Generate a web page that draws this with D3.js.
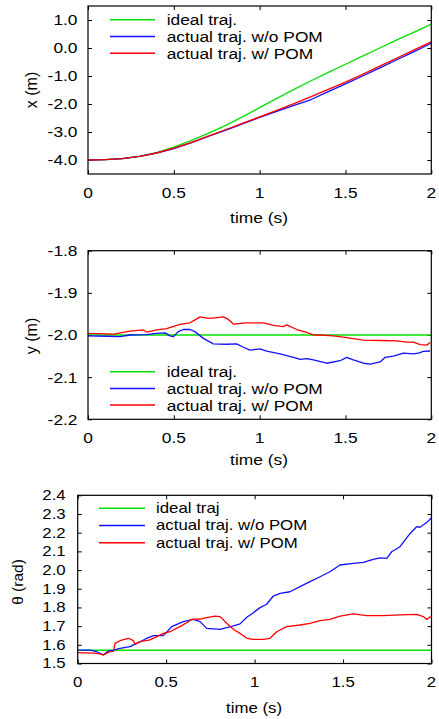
<!DOCTYPE html>
<html><head><meta charset="utf-8">
<script src="https://cdn.jsdelivr.net/npm/d3@7"></script>
<style>html,body{margin:0;padding:0;background:#fff;}svg{display:block;}</style>
</head><body>
<svg id="c" width="439" height="719"></svg>
<script>
// ---------- DATA ----------
const xTicks = [0, 0.5, 1, 1.5, 2];
const xTickLabels = ["0", "0.5", "1", "1.5", "2"];

// Panel 1: x (m)
const t1 = [0,0.1,0.2,0.3,0.4,0.5,0.6,0.7,0.8,0.9,1.0,1.1,1.2,1.3,1.4,1.5,1.6,1.7,1.8,1.9,2.0];
const xIdeal = [-4.0,-3.99,-3.95,-3.87,-3.74,-3.54,-3.31,-3.05,-2.77,-2.46,-2.13,-1.80,-1.48,-1.17,-0.87,-0.58,-0.29,0.0,0.29,0.57,0.85];
const xNoPOM = [-4.0,-3.99,-3.95,-3.87,-3.75,-3.59,-3.39,-3.16,-2.94,-2.71,-2.48,-2.26,-2.05,-1.84,-1.56,-1.28,-1.00,-0.71,-0.42,-0.13,0.17];
const xPOM   = [-4.0,-3.99,-3.95,-3.87,-3.75,-3.58,-3.38,-3.15,-2.92,-2.69,-2.46,-2.23,-1.99,-1.74,-1.48,-1.22,-0.94,-0.65,-0.36,-0.07,0.22];
const y1Ticks = [-4,-3,-2,-1,0,1];
const y1TickLabels = ["-4.0","-3.0","-2.0","-1.0","0.0","1.0"];

// Panel 2: y (m)
const t2Ideal = [0, 2];
const yIdeal = [-2.0, -2.0];
const t2NoPOM = [0,0.109,0.186,0.245,0.342,0.400,0.449,0.478,0.497,0.526,0.556,0.594,0.623,0.672,0.730,0.808,0.866,0.905,0.944,1.002,1.041,1.119,1.197,1.236,1.274,1.313,1.391,1.469,1.507,1.546,1.605,1.643,1.702,1.731,1.780,1.838,1.896,1.925,1.954,1.993];
const yNoPOM = [-2.002,-2.003,-2.004,-2.000,-1.999,-1.996,-1.995,-2.002,-2.004,-1.992,-1.987,-1.987,-1.992,-2.008,-2.021,-2.022,-2.021,-2.029,-2.036,-2.033,-2.038,-2.045,-2.053,-2.058,-2.056,-2.059,-2.067,-2.061,-2.053,-2.059,-2.067,-2.069,-2.064,-2.053,-2.050,-2.043,-2.045,-2.043,-2.039,-2.038];
const t2POM = [0,0.148,0.245,0.322,0.342,0.400,0.458,0.536,0.594,0.623,0.653,0.691,0.730,0.789,0.818,0.847,0.925,1.022,1.080,1.138,1.158,1.216,1.274,1.313,1.352,1.430,1.507,1.605,1.702,1.799,1.857,1.896,1.935,1.974,1.993];
const yPOM = [-1.996,-1.998,-1.991,-1.988,-1.993,-1.988,-1.985,-1.975,-1.971,-1.964,-1.957,-1.960,-1.960,-1.957,-1.963,-1.974,-1.971,-1.971,-1.977,-1.980,-1.976,-1.987,-1.994,-2.000,-2.000,-2.002,-2.006,-2.012,-2.013,-2.014,-2.017,-2.017,-2.023,-2.024,-2.018];
const y2Ticks = [-2.2,-2.1,-2.0,-1.9,-1.8];
const y2TickLabels = ["-2.2","-2.1","-2.0","-1.9","-1.8"];

// Panel 3: theta (rad)
const t3Ideal = [0, 2];
const thIdeal = [1.5708, 1.5708];
const t3NoPOM = [0,0.070,0.107,0.145,0.170,0.202,0.239,0.296,0.324,0.352,0.390,0.428,0.484,0.503,0.531,0.597,0.654,0.692,0.729,0.805,0.880,0.918,0.956,0.993,1.031,1.068,1.106,1.144,1.200,1.257,1.313,1.370,1.426,1.483,1.558,1.615,1.671,1.709,1.747,1.775,1.822,1.879,1.916,1.935,1.973,2.0];
const thNoPOM = [1.572,1.572,1.563,1.546,1.565,1.572,1.581,1.590,1.604,1.615,1.635,1.649,1.649,1.667,1.697,1.724,1.736,1.724,1.688,1.683,1.701,1.712,1.747,1.772,1.799,1.817,1.861,1.875,1.884,1.911,1.938,1.964,1.991,2.027,2.036,2.041,2.057,2.065,2.063,2.098,2.125,2.196,2.232,2.229,2.254,2.280];
const t3POM = [0,0.089,0.126,0.145,0.183,0.202,0.211,0.239,0.286,0.315,0.324,0.352,0.409,0.447,0.484,0.522,0.578,0.616,0.644,0.692,0.729,0.776,0.805,0.842,0.880,0.918,0.956,0.993,1.050,1.087,1.125,1.181,1.257,1.313,1.370,1.426,1.483,1.558,1.634,1.728,1.822,1.916,1.954,1.973,2.0];
const thPOM = [1.558,1.556,1.552,1.546,1.563,1.565,1.608,1.622,1.635,1.622,1.604,1.617,1.626,1.644,1.661,1.670,1.697,1.718,1.736,1.738,1.745,1.754,1.751,1.715,1.683,1.661,1.635,1.629,1.629,1.635,1.670,1.697,1.706,1.715,1.729,1.736,1.754,1.765,1.756,1.756,1.760,1.763,1.751,1.736,1.754];
const y3Ticks = [1.5,1.6,1.7,1.8,1.9,2.0,2.1,2.2,2.3,2.4];
const y3TickLabels = ["1.5","1.6","1.7","1.8","1.9","2.0","2.1","2.2","2.3","2.4"];

const legend12 = ["ideal traj.", "actual traj. w/o POM", "actual traj. w/ POM"];
const legend3 = ["ideal traj", "actual traj. w/o POM", "actual traj. w/ POM"];
const colors = ["#00e000", "#1010ff", "#ff0000"];

// ---------- DRAW ----------
const svg = d3.select("#c");
const FONT = "'Liberation Sans', Arial, Helvetica, sans-serif";

function stext(g, x, y, str, fs, sx, anchor) {
  return g.append("text")
    .attr("transform", `translate(${x},${y}) scale(${sx},1)`)
    .attr("font-family", FONT).attr("font-size", fs)
    .attr("text-anchor", anchor || "start")
    .attr("dy", "0.35em")
    .attr("fill", "#000")
    .text(str);
}

function panel(cfg) {
  const g = svg.append("g");
  const x = d3.scaleLinear().domain([0, 2]).range([cfg.left, cfg.right]);
  const y = d3.scaleLinear().domain(cfg.ydom).range([cfg.bottom, cfg.top]);
  const tk = 4;

  const mk = (axis, tr) => {
    const a = g.append("g").attr("transform", tr).call(axis);
    a.select(".domain").remove();
    a.selectAll("line").attr("stroke", "#000").attr("stroke-width", 1);
    a.selectAll("text").remove();
    return a;
  };
  mk(d3.axisBottom(x).tickValues(xTicks).tickSize(-tk), `translate(0,${cfg.bottom})`);
  mk(d3.axisTop(x).tickValues(xTicks).tickSize(-tk), `translate(0,${cfg.top})`);
  mk(d3.axisLeft(y).tickValues(cfg.yticks).tickSize(-tk), `translate(${cfg.left},0)`);
  mk(d3.axisRight(y).tickValues(cfg.yticks).tickSize(-tk), `translate(${cfg.right},0)`);

  xTicks.forEach((v, i) => stext(g, x(v), cfg.xlabY, xTickLabels[i], cfg.fs, cfg.sx, "middle"));
  cfg.yticks.forEach((v, i) => stext(g, cfg.ylabX, y(v), cfg.ylabels[i], cfg.fs, cfg.sx, "end"));

  stext(g, cfg.xtitle[0], cfg.xtitle[1], "time (s)", cfg.fs, cfg.sx, "middle");
  g.append("text")
    .attr("transform", `translate(${cfg.ytitle[0]},${cfg.ytitle[1]}) rotate(-90)`)
    .attr("font-family", FONT).attr("font-size", cfg.yfs)
    .attr("text-anchor", "middle").attr("dy", "0.35em")
    .text(cfg.ytitleText);

  const line = d3.line().x(d => x(d[0])).y(d => y(d[1]));
  cfg.series.forEach((s, i) => {
    const pts = s[0].map((t, j) => [t, s[1][j]]);
    g.append("path").datum(pts).attr("d", line)
      .attr("fill", "none").attr("stroke", colors[i]).attr("stroke-width", 1.3)
      .attr("stroke-linejoin", "round");
  });

  cfg.legend.forEach((lab, i) => {
    const ly = cfg.legY + i * cfg.legDy;
    g.append("line").attr("x1", cfg.legX0).attr("x2", cfg.legX1).attr("y1", ly).attr("y2", ly)
      .attr("stroke", colors[i]).attr("stroke-width", 1.5);
    stext(g, cfg.legTx, ly, lab, cfg.fs, cfg.sx, "start");
  });

  g.append("rect").attr("x", cfg.left).attr("y", cfg.top)
    .attr("width", cfg.right - cfg.left).attr("height", cfg.bottom - cfg.top)
    .attr("fill", "none").attr("stroke", "#000").attr("stroke-width", 1.2);
}

panel({
  left: 88, right: 431.3, top: 6, bottom: 174, ydom: [-4.5, 1.5], yticks: y1Ticks, ylabels: y1TickLabels,
  fs: 15.5, sx: 1.12, yfs: 16, xlabY: 193, ylabX: 77.5, xtitle: [259, 218], ytitle: [31, 90], ytitleText: "x (m)",
  series: [[t1, xIdeal], [t1, xNoPOM], [t1, xPOM]],
  legend: legend12, legX0: 110, legX1: 155, legTx: 166.7, legY: 19.7, legDy: 16.8
});
panel({
  left: 88, right: 431.3, top: 250.7, bottom: 419.3, ydom: [-2.2, -1.8], yticks: y2Ticks, ylabels: y2TickLabels,
  fs: 15.5, sx: 1.12, yfs: 16, xlabY: 438, ylabX: 77.5, xtitle: [259, 460], ytitle: [31, 336], ytitleText: "y (m)",
  series: [[t2Ideal, yIdeal], [t2NoPOM, yNoPOM], [t2POM, yPOM]],
  legend: legend12, legX0: 110, legX1: 155, legTx: 166.7, legY: 371.7, legDy: 16.7
});
panel({
  left: 77.7, right: 431.5, top: 495.3, bottom: 663.5, ydom: [1.5, 2.4], yticks: y3Ticks, ylabels: y3TickLabels,
  fs: 14, sx: 1.2, yfs: 15.5, xlabY: 682, ylabX: 65.7, xtitle: [254, 708], ytitle: [17.5, 582], ytitleText: "θ (rad)",
  series: [[t3Ideal, thIdeal], [t3NoPOM, thNoPOM], [t3POM, thPOM]],
  legend: legend3, legX0: 99, legX1: 145, legTx: 156, legY: 508.3, legDy: 17.2
});
</script>
</body></html>
